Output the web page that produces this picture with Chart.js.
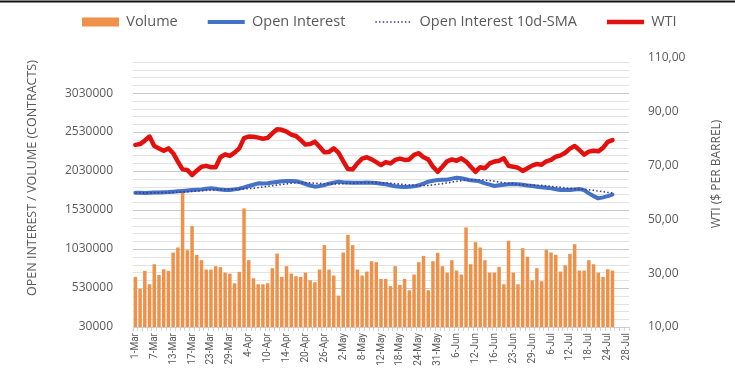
<!DOCTYPE html>
<html>
<head>
<meta charset="utf-8">
<script src="https://cdn.jsdelivr.net/npm/chart.js@4"></script>
<style>
html,body{margin:0;padding:0;background:#fff;}
#wrap{width:735px;height:374px;position:relative;background:#fff;}
canvas{display:block;background:#fff;}
</style>
</head>
<body>
<div id="wrap"><canvas id="c" width="735" height="374"></canvas></div>
<script>
// ---------- DATA ----------
const dates = [
 '1-Mar','2-Mar','3-Mar','6-Mar','7-Mar','8-Mar','9-Mar','10-Mar','13-Mar','14-Mar','15-Mar','16-Mar','17-Mar','20-Mar','21-Mar','22-Mar','23-Mar','24-Mar','27-Mar','28-Mar','29-Mar','30-Mar','31-Mar',
 '3-Apr','4-Apr','5-Apr','6-Apr','7-Apr','10-Apr','11-Apr','12-Apr','13-Apr','14-Apr','17-Apr','18-Apr','19-Apr','20-Apr','21-Apr','24-Apr','25-Apr','26-Apr','27-Apr','28-Apr',
 '1-May','2-May','3-May','4-May','5-May','8-May','9-May','10-May','11-May','12-May','15-May','16-May','17-May','18-May','19-May','22-May','23-May','24-May','25-May','26-May','30-May','31-May',
 '1-Jun','2-Jun','5-Jun','6-Jun','7-Jun','8-Jun','9-Jun','12-Jun','13-Jun','14-Jun','15-Jun','16-Jun','20-Jun','21-Jun','22-Jun','23-Jun','26-Jun','27-Jun','28-Jun','29-Jun','30-Jun',
 '3-Jul','5-Jul','6-Jul','7-Jul','10-Jul','11-Jul','12-Jul','13-Jul','14-Jul','17-Jul','18-Jul','19-Jul','20-Jul','21-Jul','24-Jul','25-Jul','26-Jul','27-Jul','28-Jul'
];
const xTickLabels = ['1-Mar','7-Mar','13-Mar','17-Mar','23-Mar','29-Mar','4-Apr','10-Apr','14-Apr','20-Apr','26-Apr','2-May','8-May','12-May','18-May','24-May','31-May','6-Jun','12-Jun','16-Jun','23-Jun','29-Jun','6-Jul','12-Jul','18-Jul','24-Jul','28-Jul'];

const volume = [
 673000,518000,750000,578000,835000,698000,771000,750000,985000,1050000,1750000,1015000,1324000,955000,887000,767000,767000,810000,797000,728000,715000,591000,737000,
 1551000,887000,655000,578000,578000,591000,784000,972000,673000,810000,715000,681000,673000,728000,630000,604000,767000,1080000,767000,690000,
 433000,985000,1212000,1080000,767000,690000,741000,874000,861000,647000,647000,553000,810000,570000,647000,501000,703000,861000,942000,501000,874000,981000,
 810000,728000,887000,754000,703000,1307000,835000,1118000,1050000,887000,728000,728000,801000,578000,1135000,728000,578000,1041000,930000,630000,784000,
 617000,1020000,985000,955000,741000,822000,968000,1092000,754000,754000,887000,835000,728000,673000,771000,754000,null,null,null
];
const openInterest = [
 1752000,1752000,1750000,1752000,1754000,1756000,1758000,1760000,1765000,1770000,1775000,1780000,1786000,1790000,1795000,1804000,1808000,1804000,1792000,1788000,1786000,1795000,1804000,
 1820000,1838000,1855000,1873000,1870000,1873000,1882000,1890000,1898000,1903000,1903000,1900000,1885000,1864000,1845000,1830000,1838000,1850000,1868000,1882000,
 1894000,1888000,1884000,1881000,1880000,1881000,1882000,1881000,1876000,1868000,1860000,1848000,1834000,1828000,1825000,1828000,1834000,1847000,1870000,1894000,1905000,1916000,
 1918000,1920000,1933000,1945000,1937000,1924000,1911000,1907000,1894000,1873000,1855000,1838000,1847000,1855000,1860000,1864000,1860000,1855000,1846000,1838000,1830000,
 1821000,1815000,1808000,1797000,1786000,1786000,1786000,1792000,1799000,1786000,1744000,1709000,1680000,1693000,1709000,1727000,null,null,null
];
const openInterestSma = [
 1748000,1749000,1750000,1751000,1752000,1753000,1754000,1755000,1757000,1759000,1762000,1765000,1769000,1773000,1777000,1782000,1787000,1790000,1792000,1794000,1795000,1796000,1798000,
 1801000,1805000,1810000,1818000,1826000,1834000,1842000,1850000,1858000,1866000,1873000,1878000,1882000,1881000,1879000,1875000,1872000,1868000,1866000,1866000,
 1866000,1868000,1870000,1872000,1876000,1881000,1884000,1884000,1882000,1880000,1877000,1873000,1868000,1862000,1857000,1852000,1848000,1845000,1844000,1846000,1852000,1860000,
 1869000,1878000,1888000,1898000,1907000,1913000,1917000,1919000,1918000,1914000,1908000,1900000,1890000,1880000,1872000,1866000,1860000,1856000,1853000,1851000,1849000,
 1846000,1841000,1834000,1828000,1822000,1815000,1808000,1802000,1798000,1794000,1790000,1783000,1774000,1765000,1756000,1747000,null,null,null
];
const wti = [
 77.7,78.0,79.3,80.8,77.3,76.4,75.5,76.4,74.6,71.5,68.6,68.4,66.5,68.1,69.6,69.9,69.4,69.4,73.1,74.2,73.6,74.8,76.4,
 80.2,80.8,80.7,80.4,80.0,80.3,82.0,83.5,83.3,82.6,81.5,81.0,79.5,77.8,78.0,78.9,77.0,75.0,75.1,76.4,
 74.8,71.7,68.7,68.6,70.8,72.6,73.1,72.3,71.3,70.2,71.3,70.8,72.1,72.6,72.1,72.3,74.0,74.6,73.1,72.3,69.6,67.7,
 69.6,71.6,72.3,71.8,72.7,71.5,69.6,67.7,69.4,69.0,70.8,71.5,71.8,72.7,69.9,69.6,69.2,68.0,69.0,70.0,70.6,
 70.3,71.6,72.1,73.3,73.8,74.8,76.3,77.3,75.8,74.1,75.2,75.5,75.3,76.6,78.8,79.5,null,null,null
];
const leftTickLabels = [30000,530000,1030000,1530000,2030000,2530000,3030000];
const rightTickLabels = [10,30,50,70,90,110];
const seriesNames = ['Volume','Open Interest','Open Interest 10d-SMA','WTI'];
const axisTitles = ['OPEN INTEREST / VOLUME (CONTRACTS)','WTI ($ PER BARREL)'];

// ---------- STYLE ----------
const C_BAR = '#f0914a', C_OI = '#4472c4', C_SMA = '#3f3a8c', C_WTI = '#e3110e';
const TXT = '#595959';
const GRID_MAJOR = '#cacaca', GRID_MINOR = '#e3e3e3';
const FONT = "'Open Sans', 'Liberation Sans', sans-serif";

const deco = {
  id: 'deco',
  beforeLayout(chart) {
    const lg = chart.legend;
    if (lg && !lg._patched) {
      const f = lg.fit;
      lg.fit = function() { f.call(this); this.height = 58; };
      lg._patched = true;
    }
  },
  afterLayout(chart) {
    const lg = chart.legend;
    const pad = lg.options.labels.padding;
    const fs = lg.options.labels.font.size;
    lg.top = 22 - pad - fs / 2;
    const lw = lg.lineWidths ? lg.lineWidths[0] : 0;
    const x0 = (lg.left + pad + lg.right - lw) / 2;
    const dx = 82 - x0;
    lg.left += dx; lg.right += dx;
  },
  // horizontal grid from the value axis' own ticks, painted just before the datasets
  beforeDatasetsDraw(chart) {
    const s = chart.scales.y, a = chart.chartArea, ctx = chart.ctx;
    ctx.save();
    ctx.globalCompositeOperation = 'source-over';
    ctx.globalAlpha = 1;
    ctx.beginPath();
    ctx.rect(0, 0, chart.width, chart.height);
    for (const t of s.ticks) {
      if (t.value > 3430000) continue;
      const y = Math.round(s.getPixelForValue(t.value));
      ctx.fillStyle = leftTickLabels.includes(t.value) ? GRID_MAJOR : GRID_MINOR;
      ctx.fillRect(a.left, y, a.right - a.left, 1);
    }
    ctx.restore();
  },
  afterDraw(chart) {
    const ctx = chart.ctx;
    ctx.save();
    ctx.strokeStyle = '#111';
    ctx.lineWidth = 2;
    ctx.beginPath(); ctx.moveTo(0, 1.5); ctx.lineTo(chart.width, 1.5); ctx.stroke();
    ctx.fillStyle = TXT;
    ctx.font = '12.5px ' + FONT;
    ctx.textAlign = 'center';
    ctx.textBaseline = 'middle';
    ctx.translate(32, 178); ctx.rotate(-Math.PI / 2);
    ctx.fillText(axisTitles[0], 0, 0);
    ctx.restore();
    ctx.save();
    ctx.fillStyle = TXT;
    ctx.font = '12px ' + FONT;
    ctx.textAlign = 'center';
    ctx.textBaseline = 'middle';
    ctx.translate(717, 174); ctx.rotate(-Math.PI / 2);
    ctx.fillText(axisTitles[1], 0, 0);
    ctx.restore();
  }
};

new Chart(document.getElementById('c'), {
  type: 'bar',
  data: {
    labels: dates,
    datasets: [
      { type: 'line', label: seriesNames[2], data: openInterestSma, yAxisID: 'y', borderColor: C_SMA, borderWidth: 1.6, borderDash: [1.5, 2.2], pointRadius: 0, tension: 0, fill: false, order: 1 },
      { type: 'line', label: seriesNames[3], data: wti, yAxisID: 'y1', borderColor: C_WTI, borderWidth: 4.5, pointRadius: 0, tension: 0, fill: false, borderJoinStyle: 'round', borderCapStyle: 'round', order: 2 },
      { type: 'line', label: seriesNames[1], data: openInterest, yAxisID: 'y', borderColor: C_OI, borderWidth: 4, pointRadius: 0, tension: 0, fill: false, borderJoinStyle: 'round', borderCapStyle: 'round', order: 3 },
      { type: 'bar', label: seriesNames[0], data: volume, yAxisID: 'y', backgroundColor: C_BAR, barPercentage: 0.74, categoryPercentage: 1.0, order: 4 }
    ]
  },
  options: {
    responsive: false,
    animation: false,
    devicePixelRatio: 1,
    layout: { padding: 0 },
    plugins: {
      tooltip: { enabled: false },
      legend: {
        position: 'top',
        labels: {
          usePointStyle: true, pointStyleWidth: 37, boxHeight: 9, padding: 30, color: TXT,
          font: { family: FONT, size: 14.5 },
          generateLabels(chart) {
            const order = [3, 2, 0, 1];
            return order.map(di => {
              const ds = chart.data.datasets[di];
              const isBar = ds.type === 'bar';
              return {
                text: ds.label, datasetIndex: di,
                fillStyle: isBar ? ds.backgroundColor : 'rgba(0,0,0,0)',
                strokeStyle: isBar ? 'rgba(0,0,0,0)' : ds.borderColor,
                lineWidth: isBar ? 0 : ds.borderWidth,
                lineDash: ds.borderDash || [], lineCap: 'butt',
                pointStyle: isBar ? 'rect' : 'line', fontColor: TXT, hidden: false
              };
            });
          }
        }
      }
    },
    scales: {
      x: {
        type: 'category', offset: true,
        grid: { display: true, drawOnChartArea: false, drawTicks: true, tickLength: 4, color: '#d4d4d4', offset: true },
        border: { display: true, color: '#d4d4d4' },
        ticks: {
          autoSkip: false, minRotation: 90, maxRotation: 90, padding: 2,
          color: TXT, font: { family: "'Roboto', sans-serif", size: 10 },
          callback(v, i) { const l = dates[i]; return xTickLabels.includes(l) ? l : ''; }
        },
        afterFit(s) { s.height = 47; }
      },
      y: {
        type: 'linear', position: 'left', min: 30000, max: 3480000,
        afterBuildTicks(s) {
          const t = [];
          for (let v = leftTickLabels[0]; v <= 3430000; v += 100000) t.push({ value: v });
          s.ticks = t;
        },
        grid: { display: false },
        border: { display: false },
        ticks: {
          autoSkip: false, padding: 12, color: TXT, font: { family: FONT, size: 12 },
          callback(v) { return leftTickLabels.includes(v) ? String(v) : ''; }
        },
        afterFit(s) { s.width = 133; }
      },
      y1: {
        type: 'linear', position: 'right', min: 10, max: 110,
        afterBuildTicks(s) { s.ticks = rightTickLabels.map(v => ({ value: v })); },
        grid: { display: false, drawOnChartArea: false },
        border: { display: false },
        ticks: {
          autoSkip: false, padding: 11, color: TXT, font: { family: FONT, size: 12 },
          callback(v) { return v.toFixed(2).replace('.', ','); }
        },
        afterFit(s) { s.width = 106; }
      }
    }
  },
  plugins: [deco]
});
</script>
</body>
</html>
